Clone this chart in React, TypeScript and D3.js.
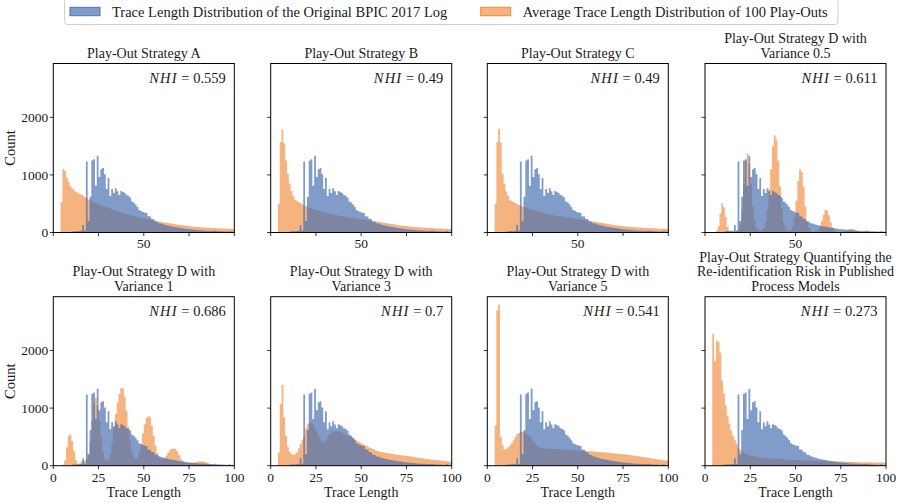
import React from 'react'
import * as d3 from 'd3'

// trace length bins (left edge of each unit-wide bin)
const traceLengths = d3.range(4, 100)

// original BPIC 2017 log, same in every panel
const originalLog = [
  0, 0, 0, 0, 0, 0,
  15, 20, 25, 20, 25, 30, 130, 35, 1235, 200,
  620, 1250, 1270, 810, 1335, 965, 1100, 1120, 1010, 755,
  945, 635, 755, 685, 770, 715, 650, 722, 705, 685,
  650, 638, 610, 540, 520, 485, 442, 392, 372, 358,
  346, 340, 283, 276, 238, 230, 192, 186, 162, 156,
  142, 136, 126, 117, 112, 104, 100, 94, 88, 81,
  78, 72, 68, 62, 58, 55, 52, 50, 46, 44,
  40, 38, 36, 34, 32, 30, 28, 27, 30, 35,
  24, 22, 21, 20, 18, 17, 16, 25, 14, 13,
]

const strategyA = [
  530, 1100, 1070, 960, 880, 810,
  770, 735, 708, 690, 675, 660, 642, 618, 598, 574,
  560, 548, 530, 512, 498, 489, 474, 462, 449, 441,
  428, 419, 402, 391, 381, 368, 361, 349, 341, 332,
  321, 312, 302, 296, 289, 281, 271, 262, 256, 249,
  241, 236, 229, 221, 216, 209, 202, 196, 189, 186,
  179, 175, 170, 164, 161, 154, 151, 144, 141, 134,
  131, 124, 121, 116, 112, 110, 104, 101, 99, 96,
  94, 92, 89, 88, 86, 84, 82, 80, 78, 77,
  75, 74, 72, 71, 69, 68, 66, 65, 64, 62,
]

const strategyB = [
  500, 1570, 1790, 1550, 1250, 1020,
  845, 720, 640, 570, 552, 531, 509, 492, 471, 455,
  441, 429, 421, 408, 399, 391, 379, 371, 359, 352,
  344, 336, 328, 321, 314, 309, 301, 294, 289, 283,
  279, 274, 269, 264, 259, 255, 249, 245, 239, 236,
  230, 224, 221, 214, 210, 204, 199, 195, 189, 186,
  179, 176, 169, 166, 159, 156, 149, 146, 140, 136,
  126, 123, 118, 116, 111, 108, 105, 103, 99, 97,
  95, 92, 90, 87, 86, 83, 82, 79, 78, 76,
  75, 73, 71, 70, 68, 67, 65, 64, 62, 60,
]

const strategyC = [
  500, 1570, 1800, 1560, 1020, 845,
  717, 641, 566, 549, 532, 512, 496, 479, 466, 451,
  442, 431, 419, 410, 401, 389, 381, 369, 361, 351,
  346, 334, 331, 319, 316, 308, 302, 293, 290, 284,
  281, 273, 270, 263, 261, 254, 251, 244, 241, 234,
  231, 226, 219, 216, 209, 206, 198, 196, 188, 187,
  181, 174, 171, 164, 161, 154, 151, 144, 141, 134,
  128, 122, 120, 115, 113, 107, 106, 102, 100, 96,
  96, 91, 91, 86, 87, 82, 83, 78, 79, 75,
  76, 72, 72, 69, 69, 66, 66, 63, 63, 60,
]

const strategyD05 = [
  0, 10, 30, 110, 330, 510,
  440, 270, 100, 40, 20, 10, 10, 20, 50, 150,
  400, 850, 1250, 1370, 1200, 850, 450, 200, 80, 40,
  30, 40, 80, 180, 400, 750, 1100, 1500, 1690, 1600,
  1250, 800, 420, 180, 70, 30, 25, 40, 100, 250,
  550, 900, 1100, 1050, 800, 450, 200, 80, 30, 15,
  10, 20, 50, 110, 200, 310, 390, 380, 300, 180,
  90, 40, 15, 10, 10, 10, 15, 25, 40, 55,
  60, 60, 55, 40, 25, 15, 10, 5, 5, 3,
  2, 2, 1, 1, 0, 0, 0, 0, 0, 0,
]

const strategyD1 = [
  0, 20, 90, 320, 520, 540,
  430, 250, 100, 40, 40, 70, 90, 80, 120, 200,
  420, 780, 1080, 1170, 1050, 780, 480, 250, 120, 80,
  100, 200, 400, 650, 900, 1100, 1250, 1350, 1340, 1200,
  950, 680, 430, 250, 150, 110, 130, 220, 380, 560,
  720, 830, 860, 840, 700, 520, 350, 220, 140, 110,
  110, 130, 180, 230, 270, 290, 300, 290, 250, 180,
  120, 80, 60, 50, 45, 45, 45, 50, 60, 70,
  75, 75, 75, 70, 60, 45, 30, 20, 15, 10,
  6, 5, 4, 3, 3, 2, 2, 1, 1, 1,
]

const strategyD3 = [
  230, 1070, 1400, 840, 520, 330,
  240, 205, 188, 197, 228, 302, 378, 452, 505, 648,
  718, 742, 752, 718, 662, 588, 522, 458, 421, 412,
  452, 498, 542, 568, 592, 598, 602, 594, 586, 571,
  556, 538, 527, 508, 497, 478, 462, 438, 422, 398,
  382, 366, 349, 337, 318, 306, 289, 276, 261, 252,
  239, 236, 228, 226, 218, 216, 209, 206, 198, 196,
  189, 187, 181, 179, 173, 171, 164, 161, 154, 151,
  144, 141, 134, 131, 124, 121, 116, 112, 107, 104,
  99, 97, 93, 91, 87, 85, 81, 78, 73, 70,
]

const strategyD5 = [
  700, 2700, 2800, 500, 360, 280,
  290, 320, 350, 390, 440, 500, 550, 570, 590, 590,
  580, 560, 530, 500, 460, 420, 380, 345, 320, 310,
  305, 301, 300, 297, 296, 293, 292, 289, 288, 285,
  284, 281, 280, 277, 276, 273, 272, 269, 268, 265,
  264, 261, 260, 257, 256, 253, 252, 249, 248, 245,
  244, 240, 238, 234, 232, 228, 226, 222, 220, 216,
  214, 210, 208, 204, 202, 198, 195, 190, 187, 182,
  179, 173, 169, 163, 159, 153, 149, 143, 139, 133,
  129, 123, 119, 113, 109, 103, 99, 93, 89, 84,
]

const strategyQuant = [
  2290, 1820, 2170, 2150, 1960, 1480,
  1260, 1050, 870, 730, 610, 520, 450, 380, 310, 270,
  250, 226, 204, 191, 179, 173, 165, 161, 154, 151,
  145, 143, 137, 136, 131, 130, 125, 124, 119, 119,
  115, 115, 111, 111, 107, 107, 103, 103, 99, 99,
  97, 96, 94, 94, 92, 91, 89, 89, 88, 87,
  86, 85, 83, 83, 81, 81, 79, 79, 78, 77,
  76, 75, 73, 73, 71, 71, 69, 69, 68, 67,
  66, 65, 64, 63, 62, 61, 60, 60, 59, 59,
  58, 58, 57, 57, 56, 56, 55, 55, 54, 54,
]

const panelTitles = [
  ['Play-Out Strategy A'],
  ['Play-Out Strategy B'],
  ['Play-Out Strategy C'],
  ['Play-Out Strategy D with', 'Variance 0.5'],
  ['Play-Out Strategy D with', 'Variance 1'],
  ['Play-Out Strategy D with', 'Variance 3'],
  ['Play-Out Strategy D with', 'Variance 5'],
  ['Play-Out Strategy Quantifying the', 'Re-identification Risk in Published', 'Process Models'],
]
const nhiValues = ['0.559', '0.49', '0.49', '0.611', '0.686', '0.7', '0.541', '0.273']
const playOuts = [strategyA, strategyB, strategyC, strategyD05, strategyD1, strategyD3, strategyD5, strategyQuant]

const xTicks = [0, 25, 50, 75, 100]
const yTicks = [0, 1000, 2000]
const legendLabels = [
  'Trace Length Distribution of the Original BPIC 2017 Log',
  'Average Trace Length Distribution of 100 Play-Outs',
]

const W = 901
const H = 503
const colLeft = [53.3, 270.7, 487.3, 705]
const rowTop = [63.5, 296.7]
const plotW = 181
const plotH = 169
const BLUE = '#4c72b0'
const ORANGE = '#ef8a3c'
const FONT = "'Liberation Serif', 'DejaVu Serif', serif"
const TEXT = '#1a1a1a'

const x = d3.scaleLinear().domain([0, 100]).range([0, plotW])
const y = d3.scaleLinear().domain([0, 2935]).range([plotH, 0])

const histArea = d3.area<[number, number]>()
  .x(d => x(d[0]))
  .y0(y(0))
  .y1(d => y(d[1]))
  .curve(d3.curveStepAfter)

function histPath(values: number[]) {
  const pts: [number, number][] = traceLengths.map((t, i) => [t, values[i]])
  pts.push([traceLengths[traceLengths.length - 1] + 1, values[values.length - 1]])
  return histArea(pts) || ''
}

function Panel({ idx }: { idx: number }) {
  const col = idx % 4
  const row = Math.floor(idx / 4)
  const title = panelTitles[idx]
  return (
    <g transform={`translate(${colLeft[col]},${rowTop[row]})`}>
      <path d={histPath(playOuts[idx])} fill={ORANGE} fillOpacity={0.65} />
      <path d={histPath(originalLog)} fill={BLUE} fillOpacity={0.7} />
      <rect x={0} y={0} width={plotW} height={plotH} fill="none" stroke="#000" strokeWidth={1} />
      {xTicks.map(t => (
        <g key={'x' + t}>
          <line x1={x(t)} x2={x(t)} y1={plotH} y2={plotH + 3.5} stroke="#000" strokeWidth={0.8} />
          {(row === 1 || t === 50) && (
            <text x={x(t)} y={plotH + (row === 1 ? 16 : 15)} textAnchor="middle"
              fontSize={13.5} fill={TEXT}>{t}</text>
          )}
        </g>
      ))}
      {yTicks.map(t => (
        <g key={'y' + t}>
          <line x1={-3.5} x2={0} y1={y(t)} y2={y(t)} stroke="#000" strokeWidth={0.8} />
          {col === 0 && (
            <text x={-5} y={y(t) + 4.6} textAnchor="end" fontSize={13.5} fill={TEXT}>{t}</text>
          )}
        </g>
      ))}
      {title.map((line, k) => (
        <text key={k} x={plotW / 2} y={-5.5 - (title.length - 1 - k) * 14.8}
          textAnchor="middle" fontSize={14} fill={TEXT}>{line}</text>
      ))}
      <text x={plotW - 8.5} y={19} textAnchor="end" fontSize={14.5} fill={TEXT}>
        <tspan fontStyle="italic" letterSpacing={1.2}>NHI</tspan>
        <tspan> = {nhiValues[idx]}</tspan>
      </text>
      {col === 0 && (
        <text transform={`translate(${-38},${plotH / 2}) rotate(-90)`} textAnchor="middle"
          fontSize={14.5} fill={TEXT}>Count</text>
      )}
      {row === 1 && (
        <text x={plotW / 2} y={plotH + 31.5} textAnchor="middle" fontSize={14} fill={TEXT}>Trace Length</text>
      )}
    </g>
  )
}

export default function App() {
  return (
    <svg width={W} height={H} style={{ position: 'absolute', left: 0, top: 0, background: '#fff', fontFamily: FONT }}>
      <rect x={0} y={0} width={W} height={H} fill="#fff" />
      {/* legend */}
      <rect x={64.5} y={-1.5} width={773.5} height={26} rx={3} fill="#fff" stroke="#cfcfcf" strokeWidth={1} />
      <rect x={70} y={7.3} width={30} height={8.4} fill={BLUE} fillOpacity={0.7} stroke={BLUE} strokeWidth={1} />
      <text x={112} y={17} fontSize={14.5} fill={TEXT}>{legendLabels[0]}</text>
      <rect x={480.7} y={7.3} width={30} height={8.4} fill={ORANGE} fillOpacity={0.65} stroke={ORANGE} strokeWidth={1} />
      <text x={522.7} y={17} fontSize={14.5} fill={TEXT}>{legendLabels[1]}</text>
      {panelTitles.map((_, i) => <Panel key={i} idx={i} />)}
    </svg>
  )
}
